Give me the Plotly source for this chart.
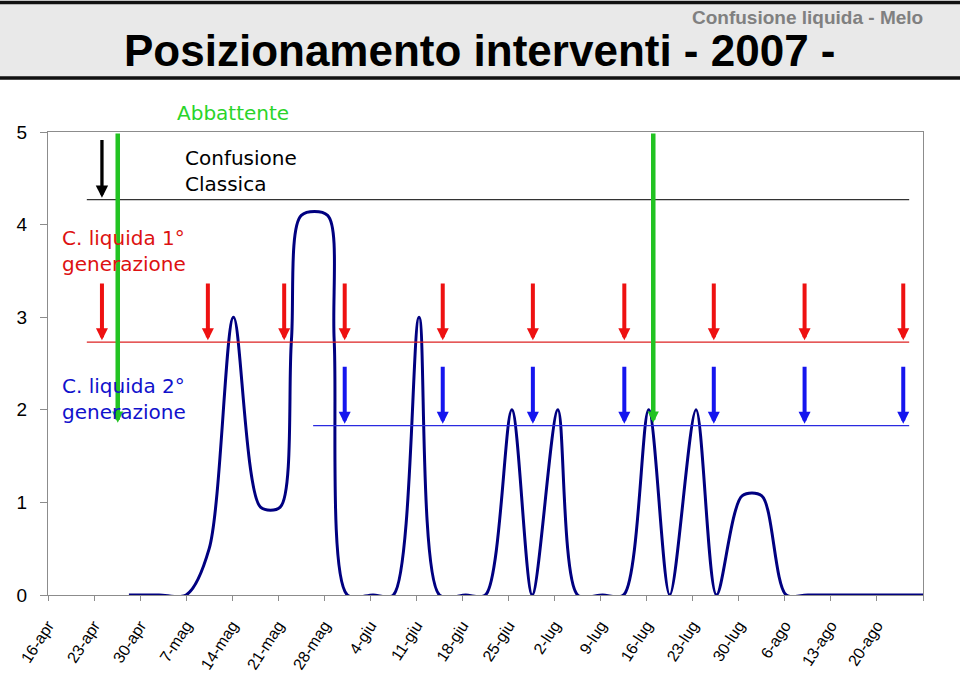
import plotly.graph_objects as go

# ---------------- data ----------------
# days after 16-apr (x) and observed level (y)
curve_days = [12.3, 16.9, 21.0, 24.5, 28.2, 32.3, 35.3, 37.0, 38.5, 42.5, 43.5, 45.5, 49.4, 52.5,
              56.4, 59.5, 63.5, 66.5, 70.5, 73.6, 77.5, 80.5, 84.3, 87.5, 91.3, 94.5,
              98.5, 101.6, 105.5, 108.5, 112.2, 115.5, 133.0]
curve_vals = [0, 0, 0, 0.5, 3.0, 0.95, 0.95, 2.75, 4.1, 4.1, 2.75, 0, 0, 0,
              3.0, 0, 0, 0, 2.0, 0, 2.0, 0, 0, 0, 2.0, 0,
              2.0, 0, 1.07, 1.07, 0, 0, 0]

tick_days = [0, 7, 14, 21, 28, 35, 42, 49, 56, 63, 70, 77, 84, 91, 98, 105, 112, 119, 126, 133]
tick_labels = ["16-apr", "23-apr", "30-apr", "7-mag", "14-mag", "21-mag", "28-mag", "4-giu",
               "11-giu", "18-giu", "25-giu", "2-lug", "9-lug", "16-lug", "23-lug", "30-lug",
               "6-ago", "13-ago", "20-ago", ""]

# interventions (days after 16-apr)
black_days = [8.2]
green_days = [10.6, 92.0]
red_days = [8.2, 24.3, 35.9, 45.1, 60.0, 73.7, 87.6, 101.2, 115.0, 130.0]
blue_days = [45.1, 60.0, 73.7, 87.6, 101.2, 115.0, 130.0]

# arrow levels (tail, tip)
black_lvl = (4.93, 4.29)
green_lvl = (5.0, 1.86)
red_lvl = (3.38, 2.75)
blue_lvl = (2.48, 1.85)

# reference lines: (level, start day, end day)
ref_lines = [(4.27, 5.9, 130.9), (2.73, 5.9, 130.9), (1.83, 40.3, 130.9)]
ref_colors = ["#333333", "#dd2222", "#2a2ae0"]

# ---------------- figure ----------------
fig = go.Figure()
fig.add_trace(go.Scatter(
    x=curve_days, y=curve_vals, mode="lines",
    line=dict(color="#000080", width=3, shape="spline", smoothing=0.85),
    hoverinfo="skip", showlegend=False))

shapes = []
# title band
shapes.append(dict(type="rect", xref="paper", yref="paper",
                   x0=-0.07, x1=1.07, y0=1.1166, y1=1.2797,
                   fillcolor="#e9e9e9", line=dict(color="#111111", width=3.5),
                   layer="below"))
for (lvl, x0, x1), col in zip(ref_lines, ref_colors):
    shapes.append(dict(type="line", xref="x", yref="y", x0=x0, x1=x1, y0=lvl, y1=lvl,
                       line=dict(color=col, width=1.3 if col == "#333333" else 1.2)))

ann = []


def arrow(day, lvl, color, width, size):
    return dict(x=day, y=lvl[1], ax=day, ay=lvl[0], xref="x", yref="y",
                axref="x", ayref="y", text="", showarrow=True,
                arrowhead=2, arrowsize=size, arrowwidth=width, arrowcolor=color,
                standoff=0, startstandoff=0)


for d in red_days:
    ann.append(arrow(d, red_lvl, "#ee1111", 4, 0.6))
for d in blue_days:
    ann.append(arrow(d, blue_lvl, "#1515ee", 4, 0.6))
for d in black_days:
    ann.append(arrow(d, black_lvl, "#000000", 3.3, 0.75))
for d in green_days:
    ann.append(arrow(d, green_lvl, "#22c322", 4.5, 0.5))

txt_font = "DejaVu Sans, Verdana, sans-serif"
ann += [
    dict(x=(175 - 48) / 875, y=(595 - 113) / 463, xref="paper", yref="paper",
         text="Abbattente", showarrow=False,
         xanchor="left", yanchor="middle", font=dict(family=txt_font, size=20, color="#2ad42a")),
    dict(x=20.5, y=4.58, xref="x", yref="y", text="Confusione<br>Classica", showarrow=False,
         xanchor="left", yanchor="middle", align="left",
         font=dict(family=txt_font, size=20, color="#000000")),
    dict(x=1.8, y=3.71, xref="x", yref="y", text="C. liquida 1°<br>generazione", showarrow=False,
         xanchor="left", yanchor="middle", align="left",
         font=dict(family=txt_font, size=20, color="#dd1111")),
    dict(x=1.8, y=2.12, xref="x", yref="y", text="C. liquida 2°<br>generazione", showarrow=False,
         xanchor="left", yanchor="middle", align="left",
         font=dict(family=txt_font, size=20, color="#1111cc")),
    dict(x=0.0846, y=(595 - 51) / 463, xref="paper", yref="paper",
         text="Posizionamento interventi - 2007 -", showarrow=False,
         xanchor="left", yanchor="middle",
         font=dict(family="Liberation Sans, Arial, sans-serif", size=44, color="#000000",
                   weight="bold")),
    dict(x=1.0023, y=(595 - 17.5) / 463, xref="paper", yref="paper",
         text="Confusione liquida - Melo", showarrow=False,
         xanchor="right", yanchor="middle",
         font=dict(family="Liberation Sans, Arial, sans-serif", size=19, color="#808080",
                   weight="bold")),
]

fig.update_layout(
    width=960, height=677,
    margin=dict(l=48, r=37, t=132, b=82),
    paper_bgcolor="white", plot_bgcolor="white",
    shapes=shapes, annotations=ann, showlegend=False,
    xaxis=dict(range=[0, 133], tickmode="array", tickvals=tick_days, ticktext=tick_labels,
               tickangle=-57, ticks="outside", ticklen=5, tickcolor="#8c8c8c",
               showline=True, linecolor="#8c8c8c", linewidth=1, mirror=True,
               showgrid=False, zeroline=False, ticklabelstandoff=9, automargin=False,
               tickfont=dict(family="Liberation Sans, Arial, sans-serif", size=16, color="#000")),
    yaxis=dict(range=[0, 5], tickmode="linear", tick0=0, dtick=1,
               ticks="outside", ticklen=7, tickcolor="#8c8c8c",
               showline=True, linecolor="#8c8c8c", linewidth=1, mirror=True,
               showgrid=False, zeroline=False, ticklabelstandoff=9, automargin=False,
               tickfont=dict(family="Liberation Sans, Arial, sans-serif", size=19, color="#000")),
)

fig.write_html("out.html")
